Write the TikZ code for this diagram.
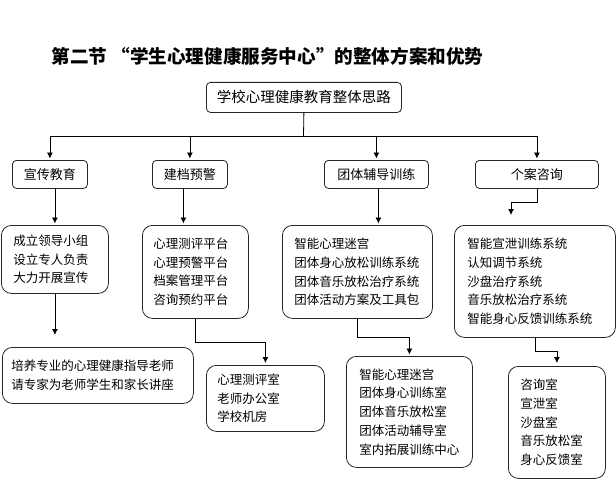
\documentclass[tikz,border=0pt]{standalone}
\usepackage{fontspec}
\setmainfont{Noto Sans CJK SC}
\usetikzlibrary{arrows.meta}
\tikzset{
  boxbase/.style={draw=black!85, line width=0.8pt, fill=white, inner ysep=0pt},
  headbox/.style={boxbase, rounded corners=4pt, anchor=north west, align=center,
    font=\fontsize{13}{15}\selectfont},
  listbox/.style={boxbase, rounded corners=10pt, anchor=north west, align=left,
    font=\fontsize{12.5}{18.7}\selectfont},
  arr/.style={-{Latex[length=6pt,width=6pt]}, line width=0.8pt},
  ln/.style={line width=0.8pt},
}
\begin{document}
\begin{tikzpicture}[x=1pt,y=-1pt]
\useasboundingbox (0,0) rectangle (616,503);
\node[font=\fontsize{18.6}{20}\selectfont\bfseries] (title) at (267.5,56) {第二节 “学生心理健康服务中心”的整体方案和优势};
% top
\node[headbox, minimum width=195pt, minimum height=30pt, font=\fontsize{14.5}{16}\selectfont] (top) at (206,82) {学校心理健康教育整体思路};
% level 2
\node[headbox, minimum width=75pt, minimum height=28pt] (b1) at (12,160) {宣传教育};
\node[headbox, minimum width=75pt, minimum height=28pt] (b2) at (152,160) {建档预警};
\node[headbox, minimum width=104pt, minimum height=28pt] (b3) at (324,160) {团体辅导训练};
\node[headbox, minimum width=123pt, minimum height=28pt] (b4) at (475,160) {个案咨询};
% level 3
\node[listbox, inner xsep=12pt, text width=83pt, minimum height=68pt] (l1) at (1,225) {成立领导小组\\设立专人负责\\大力开展宣传};
\node[listbox, inner xsep=11pt, text width=84pt, minimum height=93pt] (l2) at (142,225) {心理测评平台\\心理预警平台\\档案管理平台\\咨询预约平台};
\node[listbox, inner xsep=12pt, text width=126pt, minimum height=93pt] (l3) at (282,225) {智能心理迷宫\\团体身心放松训练系统\\团体音乐放松治疗系统\\团体活动方案及工具包};
\node[listbox, inner xsep=13pt, text width=135pt, minimum height=112pt] (r) at (454,225) {智能宣泄训练系统\\认知调节系统\\沙盘治疗系统\\音乐放松治疗系统\\智能身心反馈训练系统};
% level 4
\node[listbox, inner xsep=9pt, text width=173pt, minimum height=56pt] (l1b) at (2,347) {培养专业的心理健康指导老师\\请专家为老师学生和家长讲座};
\node[listbox, inner xsep=11pt, text width=96pt, minimum height=66pt] (l2b) at (206,365) {心理测评室\\老师办公室\\学校机房};
\node[listbox, inner xsep=13pt, text width=100pt, minimum height=111pt] (l3b) at (346,356) {智能心理迷宫\\团体身心训练室\\团体音乐放松室\\团体活动辅导室\\室内拓展训练中心};
\node[listbox, inner xsep=12pt, text width=73pt, minimum height=112pt] (rb) at (508,366) {咨询室\\宣泄室\\沙盘室\\音乐放松室\\身心反馈室};
% connectors top -> level 2
\coordinate (trunk) at (303.5,136);
\draw[ln] (top.south) -- (trunk);
\draw[ln] (b1.north |- trunk) -- (b4.north |- trunk);
\draw[arr, shorten >=1.5pt] (b1.north |- trunk) -- (b1.north);
\draw[arr, shorten >=1.5pt] (b2.north |- trunk) -- (b2.north);
\draw[arr, shorten >=1.5pt] (b3.north |- trunk) -- (b3.north);
\draw[arr, shorten >=1.5pt] (b4.north |- trunk) -- (b4.north);
% level 2 -> level 3
\draw[arr, shorten >=1.5pt] (b1.south -| l1.north) -- (l1.north);
\draw[arr, shorten >=1.5pt] ([xshift=-6.5pt]b2.south) -- ([xshift=-6.5pt]b2.south |- l2.north);
\draw[arr, shorten >=1.5pt] ([xshift=2pt]b3.south) -- ([xshift=2pt]b3.south |- l3.north);
\coordinate (r4) at (511,202);
\draw[arr, shorten >=10pt] (b4.south) -- (b4.south |- r4) -- (r4) -- (r4 |- r.north);
% level 3 -> level 4
\draw[arr, shorten >=12pt] (l1.south) -- (l1.south |- l1b.north);
\draw[arr, shorten >=2pt] (l2.south) -- ++(0,24) -| (l2b.north);
\draw[arr, shorten >=1.5pt] (l3.south) -- ++(0,19) -| (l3b.north);
\draw[arr, shorten >=3pt] (r.south) -- ++(0,14) -| (rb.north);
\end{tikzpicture}
\end{document}
